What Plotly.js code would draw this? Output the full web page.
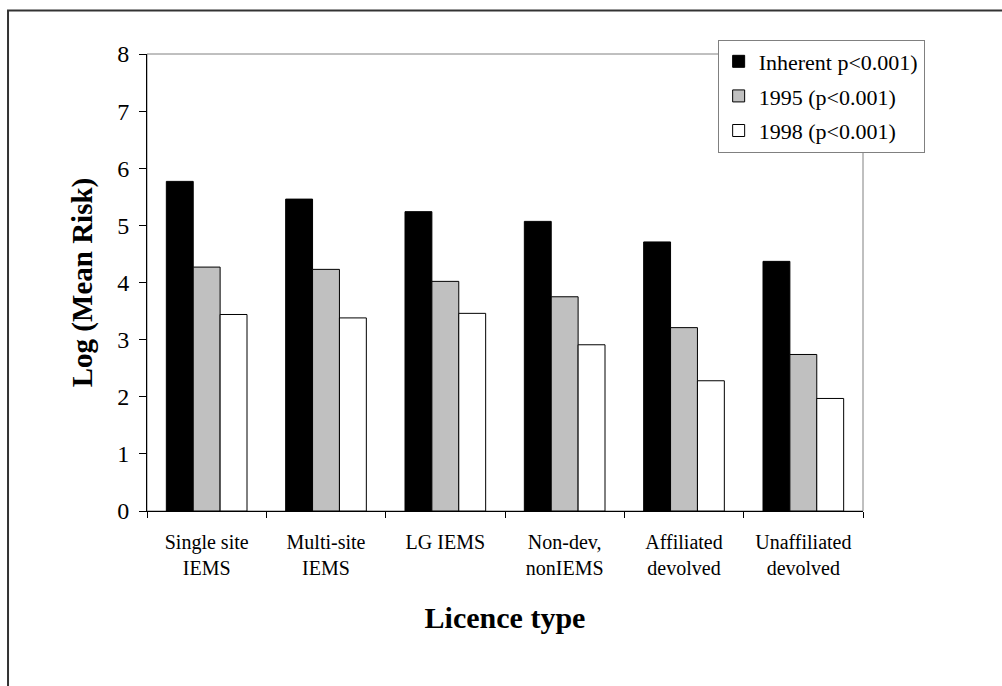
<!DOCTYPE html>
<html>
<head>
<meta charset="utf-8">
<script src="https://cdn.plot.ly/plotly-3.0.1.min.js"></script>
<style>html,body{margin:0;padding:0;background:#fff;}#chart{width:1002px;height:686px;}</style>
</head>
<body>
<div id="chart"></div>
<script>
const categories = ["Single site<br>IEMS", "Multi-site<br>IEMS", "LG IEMS", "Non-dev,<br>nonIEMS", "Affiliated<br>devolved", "Unaffiliated<br>devolved"];
const seriesNames = ["Inherent p<0.001)", "1995 (p<0.001)", "1998 (p<0.001)"];
const inherent = [5.77, 5.46, 5.24, 5.07, 4.71, 4.37];
const y1995 = [4.27, 4.23, 4.02, 3.75, 3.21, 2.74];
const y1998 = [3.44, 3.38, 3.46, 2.91, 2.28, 1.97];
const yTicks = [0, 1, 2, 3, 4, 5, 6, 7, 8];
const colors = ["#000000", "#c0c0c0", "#ffffff"];

const serif = "Liberation Serif, Times New Roman, serif";
const values = [inherent, y1995, y1998];
const traces = values.map((v, i) => ({
  type: "bar",
  name: seriesNames[i],
  x: categories,
  y: v,
  legendgroup: "g" + i,
  marker: {color: colors[i], line: {color: "#000000", width: 1}},
  hoverinfo: "x+y"
}));

const layout = {
  width: 1002, height: 686,
  margin: {l: 147, r: 139, t: 54, b: 175},
  paper_bgcolor: "#ffffff", plot_bgcolor: "#ffffff",
  barmode: "group", bargap: 0.324, bargroupgap: 0,
  font: {family: serif, color: "#000000"},
  showlegend: true,
  legend: {
    x: 0.797, y: 1.0317, xanchor: "left", yanchor: "top",
    bgcolor: "#ffffff", bordercolor: "#808080", borderwidth: 1,
    font: {family: serif, size: 22, color: "#000000"},
    itemwidth: 30,
    tracegroupgap: 3
  },
  xaxis: {
    type: "category",
    showline: true, linecolor: "#000000", linewidth: 1,
    ticks: "outside", ticklen: 6, tickcolor: "#000000", tickson: "boundaries",
    ticklabelstandoff: 13,
    tickfont: {family: serif, size: 20, color: "#000000"},
    showgrid: false, zeroline: false,
    title: {text: "<b>Licence type</b>", font: {family: serif, size: 30, color: "#000000"}, standoff: 28}
  },
  yaxis: {
    range: [0, 8], tickmode: "array", tickvals: yTicks, ticktext: yTicks.map(String),
    showline: true, linecolor: "#000000", linewidth: 1,
    ticks: "outside", ticklen: 7, tickcolor: "#000000",
    ticklabelstandoff: 5,
    tickfont: {family: serif, size: 24, color: "#000000"},
    showgrid: false, zeroline: false,
    title: {text: "<b>Log (Mean Risk)</b>", font: {family: serif, size: 29, color: "#000000"}, standoff: 16}
  },
  shapes: [
    {type: "rect", xref: "paper", yref: "paper", x0: 0, x1: 1, y0: 0, y1: 1,
     line: {color: "#808080", width: 1}, layer: "below"},
    {type: "rect", xref: "paper", yref: "paper", x0: -0.1941, x1: 1.21, y0: -0.42, y1: 1.0952,
     line: {color: "#333333", width: 2}, layer: "below"}
  ]
};

Plotly.newPlot("chart", traces, layout, {displayModeBar: false, staticPlot: true});
</script>
</body>
</html>
